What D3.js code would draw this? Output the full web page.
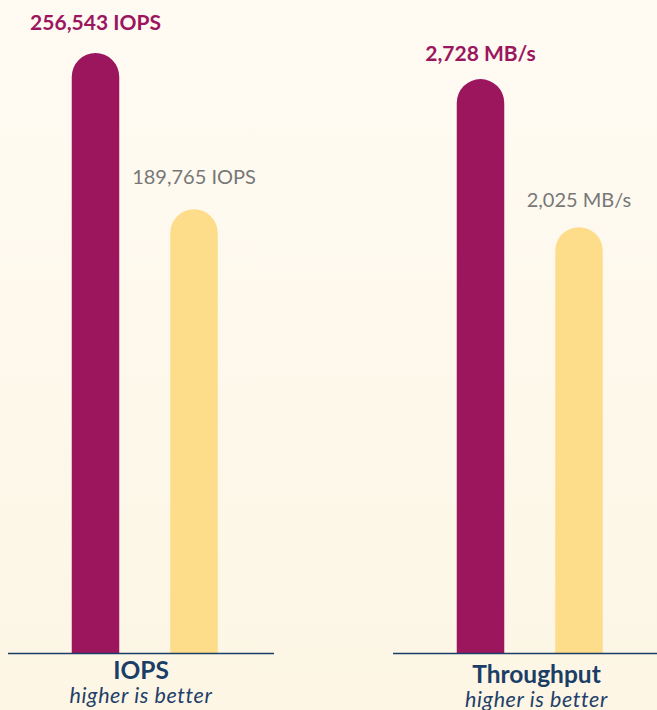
<!DOCTYPE html>
<html>
  <head>
    <meta charset="UTF-8">
    <style type="text/css">
      html, body {
        margin: 0;
        padding: 0;
      }
      body {
        width: 657px;
        height: 710px;
        overflow: hidden;
      }
      text {
        font-family: 'Lato', 'Open Sans', sans-serif;
      }
    </style>
  </head>
  <body>
    <div id="canvas"></div>
    <script src="https://cdn.jsdelivr.net/npm/d3@7"></script>
    <script type="text/javascript">
      // chart values
      var panels = ["IOPS", "Throughput"];
      var subtitles = ["higher is better", "higher is better"];
      var units = ["IOPS", "MB/s"];
      var seriesA = [256543, 2728];   // purple bars
      var seriesB = [189765, 2025];   // yellow bars
      var axisMax = [256543, 2852];

      var width = 657, height = 710;
      var baseY = 653.5, topY = 53;
      var barW = 47.5;

      // per panel layout: baseline start / end, label gaps, title offset
      var layout = [
        {x0: 8, x1: 274, gapA: 23, gapB: 25, titleDy: 0},
        {x0: 393, x1: 680, gapA: 18, gapB: 20, titleDy: 4}
      ];

      var fmt = d3.format(",");

      var svg = d3.select('#canvas').append('svg')
        .attr('width', width)
        .attr('height', height);

      var grad = svg.append('defs').append('linearGradient')
        .attr('id', 'bg')
        .attr('x1', 0).attr('y1', 0).attr('x2', 0).attr('y2', 1);
      grad.append('stop').attr('offset', '0%').attr('stop-color', '#fffbf3');
      grad.append('stop').attr('offset', '100%').attr('stop-color', '#fdf6e5');

      svg.append('rect')
        .attr('width', width)
        .attr('height', height)
        .attr('fill', 'url(#bg)');

      // bar with a round cap on top
      var capBar = function (x, top, w, base) {
        var r = w / 2;
        top = Math.min(top, base - r);
        return 'M' + x + ',' + base +
               'L' + x + ',' + (top + r) +
               'A' + r + ',' + r + ' 0 0 1 ' + (x + w) + ',' + (top + r) +
               'L' + (x + w) + ',' + base + 'Z';
      };

      panels.forEach(function (name, i) {
        var L = layout[i];
        var g = svg.append('g');

        var x = d3.scalePoint()
          .domain(['a', 'b'])
          .range([L.x0 + 87.5, L.x0 + 186]);
        var y = d3.scaleLinear()
          .domain([0, axisMax[i]])
          .range([baseY, topY]);

        var bars = [
          {key: 'a', value: seriesA[i], fill: '#9c165e', text: '#9c165e', weight: 'bold', size: 21, gap: L.gapA},
          {key: 'b', value: seriesB[i], fill: '#fddc8a', text: '#777777', weight: 'normal', size: 20, gap: L.gapB}
        ];

        g.selectAll('path.bar')
          .data(bars)
          .enter().append('path')
          .attr('class', 'bar')
          .attr('fill', function (d) { return d.fill; })
          .attr('d', function (d) {
            return capBar(x(d.key) - barW / 2, y(d.value), barW, baseY);
          });

        g.selectAll('text.val')
          .data(bars)
          .enter().append('text')
          .attr('class', 'val')
          .attr('x', function (d) { return x(d.key); })
          .attr('y', function (d) { return y(d.value) - d.gap; })
          .attr('text-anchor', 'middle')
          .attr('fill', function (d) { return d.text; })
          .style('font-weight', function (d) { return d.weight; })
          .style('font-size', function (d) { return d.size + 'px'; })
          .text(function (d) { return fmt(d.value) + ' ' + units[i]; });

        g.append('line')
          .attr('x1', L.x0).attr('x2', L.x1)
          .attr('y1', baseY).attr('y2', baseY)
          .attr('stroke', '#1b3e66')
          .attr('stroke-width', 1.5);

        var cx = (L.x0 + L.x1) / 2;
        g.append('text')
          .attr('x', cx)
          .attr('y', 679 + L.titleDy)
          .attr('text-anchor', 'middle')
          .attr('fill', '#1b3e66')
          .style('font-weight', 'bold')
          .style('font-size', '24.5px')
          .text(name);

        g.append('text')
          .attr('x', cx)
          .attr('y', 703 + L.titleDy)
          .attr('text-anchor', 'middle')
          .attr('fill', '#1f4069')
          .style('font-style', 'italic')
          .style('font-size', '21.5px')
          .style('letter-spacing', '0.6px')
          .text(subtitles[i]);
      });
    </script>
  </body>
</html>
